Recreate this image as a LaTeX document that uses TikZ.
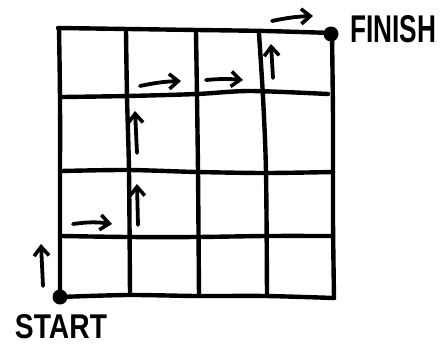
\documentclass[tikz,border=0pt]{standalone}
\usepackage{fontspec}
\usepackage{graphicx}
\setmainfont{Liberation Sans}
\usetikzlibrary{arrows.meta}
\tikzset{
  gridline/.style={line width=4.4pt, line cap=round, line join=round, black},
  pathArrow/.style={line width=3.8pt, line cap=round, -{Straight Barb[length=9pt,width=15pt,line width=3.6pt]}},
  dot/.style={circle, fill=black, inner sep=0pt, minimum size=15pt},
  lbl/.style={inner sep=0pt, font=\bfseries}
}
\begin{document}
\begin{tikzpicture}[x=1pt,y=-1pt]
\useasboundingbox (0,0) rectangle (443,345);
% horizontal lines
\draw[gridline] plot[smooth] coordinates {(58,28) (128,29) (197,30) (265,31) (332,33)};
\draw[gridline] plot[smooth] coordinates {(62,97) (128,96) (197,94) (250,91) (328,94)};
\draw[gridline] plot[smooth] coordinates {(61,171) (128,170) (197,172) (266,173) (333,172)};
\draw[gridline] plot[smooth] coordinates {(62,236) (128,237) (197,237) (266,236) (333,236)};
\draw[gridline] plot[smooth] coordinates {(60,297) (128,295) (197,296) (266,296) (334,298)};
% vertical lines
\draw[gridline] plot[smooth] coordinates {(59,28) (60,100) (60,200) (60,297)};
\draw[gridline] plot[smooth] coordinates {(126,31) (127,97) (129,172) (130,295)};
\draw[gridline] plot[smooth] coordinates {(196,32) (197,97) (198,172) (199,296)};
\draw[gridline] plot[smooth] coordinates {(259,34) (263,97) (266,172) (267,296)};
\draw[gridline] plot[smooth] coordinates {(332,33) (333,120) (333,220) (334,298)};
% dots and labels
\node[dot] (start) at (60,297) {};
\node[dot] (finish) at (331,34) {};
\node[lbl, anchor=north] (startlbl) at (61,314) {\resizebox{92pt}{24pt}{START}};
\node[lbl, anchor=west] (finishlbl) at (350,29) {\resizebox{86pt}{27pt}{FINISH}};
% path arrows
\coordinate (a1s) at (43,286); \coordinate (a1e) at (41,244);
\coordinate (a2s) at (73,224); \coordinate (a2e) at (112,224);
\coordinate (a3s) at (138,225); \coordinate (a3e) at (137,184);
\coordinate (a4s) at (137,153); \coordinate (a4e) at (135,111);
\coordinate (a5s) at (140,86); \coordinate (a5e) at (181,81);
\coordinate (a6s) at (206,80); \coordinate (a6e) at (243,80);
\coordinate (a7s) at (273,78); \coordinate (a7e) at (271,44);
\coordinate (a8s) at (272,21); \coordinate (a8e) at (313,16);
\draw[pathArrow] (a1s) -- (a1e);
\draw[pathArrow] (a2s) to[bend left=8] (a2e);
\draw[pathArrow] (a3s) -- (a3e);
\draw[pathArrow] (a4s) -- (a4e);
\draw[pathArrow] (a5s) to[bend left=5] (a5e);
\draw[pathArrow] (a6s) to[bend left=5] (a6e);
\draw[pathArrow] (a7s) -- (a7e);
\draw[pathArrow] (a8s) to[bend left=5] (a8e);
\end{tikzpicture}
\end{document}
